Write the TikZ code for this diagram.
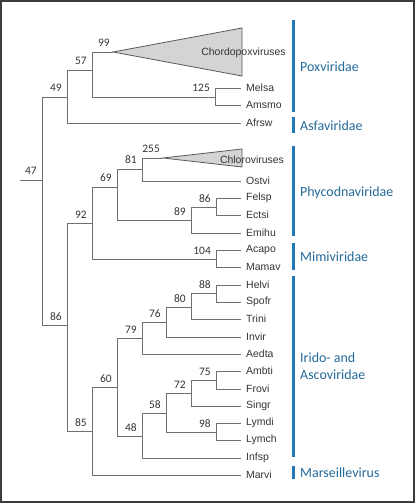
\documentclass[tikz,border=0pt]{standalone}
\usepackage{fontspec}
\setmainfont{Liberation Sans}
\newfontfamily\carl{Carlito}
\definecolor{branch}{HTML}{707070}
\definecolor{tipcol}{HTML}{333333}
\definecolor{famtext}{HTML}{23699A}
\definecolor{fambar}{HTML}{2079B4}
\definecolor{tri}{HTML}{D4D4D4}
\definecolor{frame}{HTML}{3C3C3C}
\tikzset{
  br/.style={draw=branch, line width=0.9bp},
  tiplab/.style={anchor=west, inner sep=0pt, xshift=5bp, text=tipcol, font=\fontsize{10.5}{12}\selectfont},
  blab/.style={anchor=base east, inner sep=0pt, xshift=-5bp, yshift=5bp, text=tipcol, font=\carl\fontsize{11.5}{13}\selectfont},
  alab/.style={blab, xshift=2bp},
  famlab/.style={anchor=west, inner sep=0pt, text=famtext, font=\carl\fontsize{14}{17}\selectfont, align=left},
  fbar/.style={draw=fambar, line width=3bp},
  clade/.style={draw=branch!80!black, fill=tri, line width=0.8bp},
  cladelab/.style={inner sep=0pt, text=tipcol, font=\fontsize{10.5}{12}\selectfont}
}
\begin{document}
\begin{tikzpicture}[x=1bp, y=-1bp]
\useasboundingbox (0,0) rectangle (415,503);
\draw[frame, line width=2bp] (1,1) rectangle (414,502);

% internal nodes
\coordinate (rs) at (20,180);
\coordinate (r) at (42,180);
\coordinate (n49) at (67,97);
\coordinate (n57) at (92,70);
\coordinate (n99) at (113,52);
\coordinate (n125) at (215,97);
\coordinate (n86a) at (67,325);
\coordinate (n92) at (92,223);
\coordinate (n69) at (117,187);
\coordinate (n81) at (142,169);
\coordinate (n255) at (163,158);
\coordinate (n89) at (191,220);
\coordinate (n86b) at (216,207);
\coordinate (n104) at (216,259);
\coordinate (n85) at (92,431);
\coordinate (n60) at (117,387);
\coordinate (n79) at (142,338);
\coordinate (n76) at (166,322);
\coordinate (n80) at (191,307);
\coordinate (n88) at (216,293);
\coordinate (n48) at (142,436);
\coordinate (n58) at (166,413);
\coordinate (n72) at (191,393);
\coordinate (n75) at (216,380);
\coordinate (n98) at (216,432);

% tips
\foreach \nm/\yy in {Melsa/88, Amsmo/105, Afrsw/123, Ostvi/181, Felsp/198, Ectsi/215,
  Emihu/233, Acapo/250, Mamav/267, Helvi/285, Spofr/302, Trini/319, Invir/337,
  Aedta/354, Ambti/371, Frovi/389, Singr/406, Lymdi/423, Lymch/440, Infsp/458, Marvi/475}{
  \coordinate (\nm) at (241,\yy);
  \node[tiplab] (l\nm) at (\nm) {\nm};
}

% clades (triangles)
\coordinate (c1t) at (242,28);
\coordinate (c1b) at (242,76);
\coordinate (c2t) at (242,149);
\coordinate (c2b) at (242,167);
\draw[clade] (n99) -- (c1t) -- (c1b) -- cycle;
\draw[clade] (n255) -- (c2t) -- (c2b) -- cycle;
\node[cladelab] (lchordo) at (243.5,53) {Chordopoxviruses};
\node[cladelab] (lchloro) at (252,160) {Chloroviruses};

% branches
\draw[br] (rs) -- (r);
\foreach \p/\c in {r/n49, r/n86a, n49/n57, n49/Afrsw, n57/n99, n57/n125,
  n125/Melsa, n125/Amsmo,
  n86a/n92, n86a/n85, n92/n69, n92/n104, n69/n81, n69/n89, n81/n255, n81/Ostvi,
  n89/n86b, n89/Emihu, n86b/Felsp, n86b/Ectsi, n104/Acapo, n104/Mamav,
  n85/n60, n85/Marvi, n60/n79, n60/n48, n79/n76, n79/Aedta, n76/n80, n76/Invir,
  n80/n88, n80/Trini, n88/Helvi, n88/Spofr,
  n48/n58, n48/Infsp, n58/n72, n58/n98, n72/n75, n72/Singr, n75/Ambti, n75/Frovi,
  n98/Lymdi, n98/Lymch}{
  \draw[br] (\p) |- (\c);
}

% bootstrap labels
\node[blab] (b47) at (r) {47};
\foreach \n/\t in {n49/49, n57/57, n125/125, n86a/86, n92/92, n69/69, n81/81,
  n89/89, n86b/86, n104/104, n85/85, n60/60, n79/79, n76/76, n80/80, n88/88,
  n48/48, n58/58, n72/72, n75/75, n98/98}{
  \node[blab] (b\n) at (\n) {\t};
}
\node[alab] (bn99) at (n99) {99};
\node[alab] (bn255) at (n255) {255};

% families
\foreach \nm/\ya/\yb in {pox/20/112, asfa/117/133, phyco/146/236, mimi/243/270, irido/276/457, mars/466/479}{
  \coordinate (\nm a) at (293,\ya);
  \coordinate (\nm b) at (293,\yb);
  \draw[fbar] (\nm a) -- (\nm b);
}
\node[famlab] (fpox) at (300,67) {Poxviridae};
\node[famlab] (fasfa) at (300,126) {Asfaviridae};
\node[famlab] (fphyco) at (300,193) {Phycodnaviridae};
\node[famlab] (fmimi) at (300,257) {Mimiviridae};
\node[famlab] (firido) at (300,366.5) {Irido- and\\Ascoviridae};
\node[famlab] (fmars) at (300,473) {Marseillevirus};
\end{tikzpicture}
\end{document}
